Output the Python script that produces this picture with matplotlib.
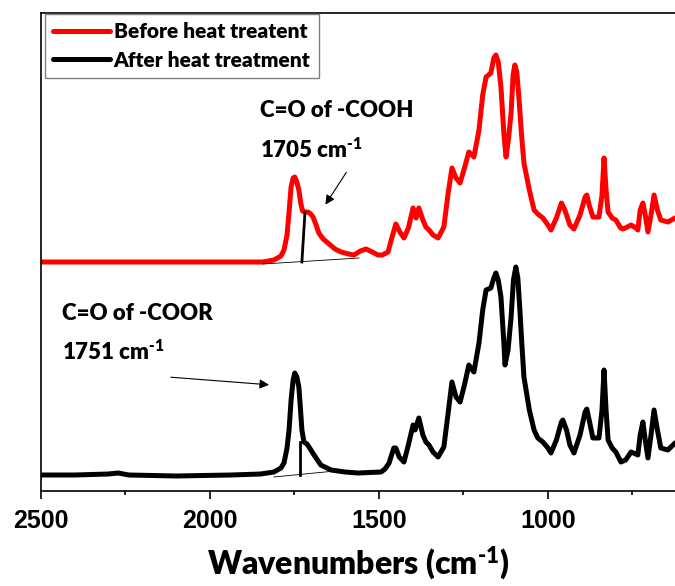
import matplotlib
matplotlib.use("Agg")
import matplotlib.pyplot as plt
from matplotlib.ticker import MultipleLocator

FONT_W = 'heavy'
plt.rcParams['mathtext.fontset'] = 'custom'
plt.rcParams['mathtext.rm'] = 'Lato:heavy'
plt.rcParams['mathtext.it'] = 'Lato:heavy'
plt.rcParams['mathtext.bf'] = 'Lato:heavy'
plt.rcParams['mathtext.default'] = 'rm'

# ---- data (wavenumber cm-1, absorbance a.u.) ----
before_wn = [2500, 2300, 2100, 1900, 1843, 1811, 1790, 1781, 1772, 1766, 1760, 1754, 1749, 1743,
             1737, 1731, 1726, 1719, 1710, 1702, 1695, 1686, 1678, 1665, 1651, 1630, 1612, 1590,
             1574, 1555, 1538, 1520, 1503, 1490, 1473, 1462, 1450, 1438, 1426, 1413, 1399, 1390,
             1382, 1370, 1361, 1352, 1340, 1325, 1308, 1296, 1284, 1272, 1260, 1247, 1234, 1219,
             1204, 1193, 1183, 1169, 1160, 1154, 1147, 1139, 1130, 1124, 1117, 1109, 1103, 1098,
             1092, 1086, 1078, 1071, 1055, 1041, 1030, 1015, 1000, 991, 975, 960, 950, 935, 923,
             905, 890, 885, 878, 867, 849, 840, 834, 828, 822, 810, 799, 785, 778, 765, 754, 740,
             734, 727, 719, 712, 704, 695, 686, 676, 666, 645, 624]
before_abs = [2.28, 2.28, 2.28, 2.28, 2.28, 2.30, 2.34, 2.40, 2.55, 2.78, 3.03, 3.12, 3.13, 3.08,
              3.00, 2.86, 2.79, 2.78, 2.78, 2.76, 2.73, 2.65, 2.57, 2.51, 2.47, 2.41, 2.38, 2.36,
              2.35, 2.39, 2.41, 2.38, 2.35, 2.35, 2.38, 2.52, 2.66, 2.58, 2.52, 2.62, 2.82, 2.72,
              2.82, 2.70, 2.63, 2.60, 2.55, 2.52, 2.63, 2.95, 3.22, 3.12, 3.07, 3.22, 3.38, 3.33,
              3.60, 3.95, 4.13, 4.17, 4.32, 4.35, 4.28, 4.03, 3.55, 3.33, 3.50, 3.77, 4.15, 4.25,
              4.18, 3.93, 3.55, 3.27, 3.00, 2.80, 2.76, 2.72, 2.65, 2.60, 2.72, 2.87, 2.80, 2.65, 2.61,
              2.75, 2.93, 2.95, 2.85, 2.73, 2.73, 2.95, 3.32, 3.00, 2.78, 2.72, 2.70, 2.62, 2.61, 2.63,
              2.65, 2.62, 2.60, 2.80, 2.87, 2.75, 2.58, 2.75, 2.95, 2.80, 2.70, 2.68, 2.72]

after_wn = [2500, 2400, 2300, 2272, 2240, 2100, 1938, 1850, 1811, 1790, 1781, 1772, 1766, 1760,
            1754, 1749, 1743, 1737, 1731, 1728, 1722, 1713, 1707, 1692, 1672, 1642, 1600, 1562,
            1494, 1482, 1470, 1456, 1450, 1440, 1426, 1413, 1399, 1393, 1382, 1370, 1361, 1352,
            1340, 1325, 1308, 1296, 1284, 1272, 1260, 1247, 1234, 1219, 1204, 1193, 1183, 1169,
            1160, 1154, 1147, 1139, 1130, 1127, 1118, 1109, 1102, 1095, 1089, 1083, 1077, 1071,
            1055, 1041, 1030, 1015, 1000, 991, 975, 960, 956, 945, 935, 923, 905, 890, 885, 878,
            867, 849, 840, 834, 828, 822, 810, 799, 784, 770, 754, 740, 734, 727, 719, 712, 704,
            695, 686, 676, 666, 645, 624]
after_abs = [0.15, 0.15, 0.16, 0.17, 0.15, 0.14, 0.15, 0.16, 0.18, 0.22, 0.27, 0.42, 0.60, 0.90,
             1.10, 1.17, 1.13, 1.03, 0.75, 0.60, 0.48, 0.46, 0.43, 0.35, 0.25, 0.20, 0.18, 0.17,
             0.18, 0.21, 0.27, 0.42, 0.42, 0.33, 0.28, 0.45, 0.65, 0.60, 0.72, 0.55, 0.48, 0.45,
             0.38, 0.33, 0.43, 0.75, 1.08, 0.93, 0.88, 1.05, 1.25, 1.18, 1.47, 1.80, 2.00, 2.02,
             2.12, 2.17, 2.10, 1.93, 1.45, 1.25, 1.40, 1.73, 2.10, 2.23, 2.12, 1.80, 1.45, 1.13,
             0.80, 0.60, 0.52, 0.48, 0.42, 0.37, 0.50, 0.68, 0.70, 0.60, 0.45, 0.37, 0.55, 0.78, 0.81, 0.70,
             0.52, 0.52, 0.80, 1.20, 0.80, 0.50, 0.42, 0.38, 0.28, 0.30, 0.38, 0.36, 0.35, 0.55, 0.68, 0.50, 0.32,
             0.55, 0.80, 0.60, 0.42, 0.40, 0.47]

series_labels = ["Before heat treatent", "After heat treatment"]
xticks = [2500, 2000, 1500, 1000]
xlabel_text = r"Wavenumbers (cm$^{\text{-}1}$)"
ann_cooh = ["C=O of -COOH", r"1705 cm$^{\text{-}1}$"]
ann_coor = ["C=O of -COOR", r"1751 cm$^{\text{-}1}$"]

# ---- figure ----
W, H = 675, 586
fig = plt.figure(figsize=(W / 100, H / 100), dpi=100)
ax = fig.add_axes([41 / W, (H - 491) / H, (W - 41) / W, (491 - 13) / H])

ax.plot(before_wn, before_abs, color='#ff0000', lw=3.6, solid_joinstyle='round',
        solid_capstyle='round', label=series_labels[0])
ax.plot(after_wn, after_abs, color='black', lw=3.6, solid_joinstyle='round',
        solid_capstyle='round', label=series_labels[1])

ax.set_xlim(2500, 624)
ax.set_ylim(-0.01, 4.77)

# annotation marks
ax.plot([1719, 1728], [2.77, 2.28], color='black', lw=2)
ax.plot([1843, 1559], [2.26, 2.32], color='black', lw=0.6)
ax.annotate("", xy=(1663, 2.83), xytext=(1592, 3.20),
            arrowprops=dict(arrowstyle='-|>', color='black', lw=0.8, mutation_scale=14))
ax.plot([1734, 1734], [0.48, 0.15], color='black', lw=2)
ax.plot([1811, 1630], [0.13, 0.19], color='black', lw=0.6)
ax.annotate("", xy=(1817, 1.05), xytext=(2124, 1.13),
            arrowprops=dict(arrowstyle='-|>', color='black', lw=0.8, mutation_scale=14))

tkw = dict(family='Lato', fontweight=FONT_W, fontsize=16, color='black', va='baseline', ha='left')
ax.text(1852, 3.73, ann_cooh[0], **tkw)
ax.text(1852, 3.32, ann_cooh[1], **tkw)
ax.text(2438, 1.70, ann_coor[0], **tkw)
ax.text(2438, 1.30, ann_coor[1], **tkw)

# axes styling
for s in ['left', 'bottom', 'top']:
    ax.spines[s].set_linewidth(1.2)
ax.spines['right'].set_visible(False)
ax.set_yticks([])
ax.xaxis.set_major_locator(MultipleLocator(500))
ax.xaxis.set_minor_locator(MultipleLocator(250))
ax.tick_params(axis='x', which='major', direction='out', length=6, width=1.2, pad=7,
               labelsize=18)
ax.tick_params(axis='x', which='minor', direction='out', length=3, width=1.2)
ax.set_xticks(xticks)
for lab in ax.get_xticklabels():
    lab.set_family('Liberation Sans')
    lab.set_fontweight('bold')

ax.set_xlabel(xlabel_text, family='Lato', fontweight=FONT_W, fontsize=23, labelpad=8)

leg = ax.legend(loc='upper left', bbox_to_anchor=(4 / 634, 1 - 1 / 478), borderaxespad=0,
                prop=dict(family='Lato', weight=FONT_W, size=15), handlelength=2.7,
                handletextpad=0.2, labelspacing=0.45, borderpad=0.4, fancybox=False,
                framealpha=1, edgecolor='#808080')
leg.get_frame().set_linewidth(1.0)
for line in leg.get_lines():
    line.set_linewidth(3.6)

fig.savefig("out.png", dpi=100)
